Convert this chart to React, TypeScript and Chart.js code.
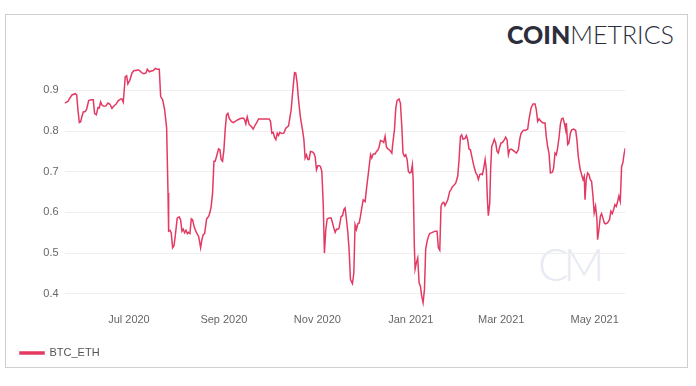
import React, { useEffect, useRef } from "react";
import { Chart, registerables } from "chart.js";

Chart.register(...registerables);

// [days since 2020-05-20, BTC/ETH correlation]
const btcEthPoints: [number, number][] = [
  [0, 0.869], [2.2, 0.873], [3.1, 0.879], [4.8, 0.889], [7.0, 0.892], [7.9, 0.889], [8.7, 0.853], [9.6, 0.821],
  [10.5, 0.823], [11.3, 0.836], [12.2, 0.847], [13.5, 0.848], [14.4, 0.854], [15.7, 0.875], [17.4, 0.877], [18.7, 0.877],
  [19.6, 0.843], [20.7, 0.84], [21.8, 0.858], [22.6, 0.857], [23.5, 0.872], [24.4, 0.864], [25.7, 0.861], [27.0, 0.862],
  [28.3, 0.869], [29.6, 0.866], [30.9, 0.856], [32.2, 0.862], [33.5, 0.866], [34.8, 0.874], [36.6, 0.879], [37.4, 0.879],
  [38.3, 0.871], [39.6, 0.934], [40.5, 0.936], [41.3, 0.916], [42.6, 0.925], [44.0, 0.943], [45.3, 0.949], [46.6, 0.949],
  [47.9, 0.951], [49.2, 0.948], [50.5, 0.943], [51.8, 0.941], [53.1, 0.943], [54.0, 0.952], [55.3, 0.946], [56.6, 0.948],
  [57.9, 0.949], [59.2, 0.954], [60.5, 0.952],
  [61.8, 0.952], [62.7, 0.885], [64.0, 0.877], [65.3, 0.853], [66.6, 0.808], [67.5, 0.648], [67.9, 0.554], [68.8, 0.556],
  [69.6, 0.55], [70.5, 0.513], [71.4, 0.518], [72.2, 0.541], [73.5, 0.586], [74.8, 0.589], [75.7, 0.582], [76.6, 0.554],
  [77.4, 0.559], [78.3, 0.55], [79.2, 0.556], [80.1, 0.548], [80.9, 0.551], [81.8, 0.548], [82.7, 0.584], [83.5, 0.582],
  [84.8, 0.562], [86.1, 0.55], [87.5, 0.541], [88.8, 0.513], [89.6, 0.533], [90.5, 0.545], [91.4, 0.548], [92.7, 0.584],
  [94.0, 0.59], [94.8, 0.599], [95.7, 0.615], [96.6, 0.648], [97.5, 0.726], [98.3, 0.726], [99.2, 0.738], [100.5, 0.756],
  [101.4, 0.754], [102.2, 0.73], [103.1, 0.726], [104.0, 0.754], [104.8, 0.803], [105.7, 0.84], [106.6, 0.844], [107.4, 0.832],
  [108.8, 0.824], [110.1, 0.821], [111.4, 0.824], [113.1, 0.828], [114.8, 0.831], [116.6, 0.832], [117.5, 0.828], [118.3, 0.818],
  [119.2, 0.835], [120.5, 0.816], [121.8, 0.812], [123.1, 0.805], [124.4, 0.815],
  [125.3, 0.82], [126.6, 0.83], [127.9, 0.83], [130.1, 0.83], [132.2, 0.83], [133.5, 0.83], [134.4, 0.824], [135.3, 0.795],
  [136.2, 0.797], [137.0, 0.785], [137.9, 0.779], [138.8, 0.795], [139.6, 0.789], [140.5, 0.797], [141.8, 0.794], [143.1, 0.795],
  [144.4, 0.807], [146.2, 0.813], [147.0, 0.832], [147.9, 0.853], [149.2, 0.91], [150.1, 0.944], [150.9, 0.943], [151.8, 0.918],
  [152.7, 0.877], [154.0, 0.832], [155.3, 0.803], [156.2, 0.779], [157.0, 0.734], [157.9, 0.742], [158.8, 0.73], [159.6, 0.73],
  [160.5, 0.75], [161.8, 0.749], [162.7, 0.746], [163.6, 0.736], [164.4, 0.705], [165.3, 0.715], [166.2, 0.715], [167.0, 0.713],
  [167.9, 0.701], [168.8, 0.623], [169.6, 0.5], [170.5, 0.558], [171.4, 0.584], [172.7, 0.586], [174.0, 0.586], [174.9, 0.574],
  [175.7, 0.562], [176.6, 0.551], [177.5, 0.559], [178.3, 0.558], [179.2, 0.562], [180.5, 0.59], [181.4, 0.592], [182.3, 0.607],
  [183.1, 0.611], [184.0, 0.582], [184.9, 0.55], [185.7, 0.509], [186.6, 0.435],
  [187.9, 0.425], [188.8, 0.451], [189.6, 0.57], [190.5, 0.558], [191.4, 0.572], [192.3, 0.574], [193.1, 0.59], [194.0, 0.611],
  [194.9, 0.631], [196.2, 0.627], [197.0, 0.656], [198.3, 0.697], [199.7, 0.742], [200.5, 0.734], [201.4, 0.744], [202.7, 0.744],
  [203.6, 0.75], [204.4, 0.753], [205.3, 0.761], [206.2, 0.777], [207.5, 0.775], [208.3, 0.772], [209.2, 0.787], [210.1, 0.761],
  [211.0, 0.756], [212.3, 0.753], [213.6, 0.746], [214.4, 0.775], [215.3, 0.803], [216.2, 0.857], [217.0, 0.875], [218.3, 0.879],
  [219.2, 0.869], [220.1, 0.812], [220.9, 0.746], [221.8, 0.738], [222.7, 0.742], [223.6, 0.73], [224.4, 0.701], [225.3, 0.697],
  [226.2, 0.699], [227.0, 0.717], [227.5, 0.681], [228.3, 0.517], [228.8, 0.461], [229.6, 0.476], [230.5, 0.488], [231.4, 0.427],
  [232.3, 0.418], [233.1, 0.394], [234.0, 0.378], [234.9, 0.41], [235.7, 0.509], [236.6, 0.529], [237.5, 0.541], [238.3, 0.548],
  [240.1, 0.551], [241.8, 0.554], [243.1, 0.554], [244.0, 0.513], [244.9, 0.507], [245.7, 0.615], [246.6, 0.623], [247.5, 0.625],
  [248.3, 0.617],
  [250.1, 0.631], [251.4, 0.652], [252.3, 0.656], [253.1, 0.663], [254.0, 0.666], [255.3, 0.672], [256.6, 0.689], [257.5, 0.73],
  [258.4, 0.787], [259.2, 0.791], [260.1, 0.78], [261.4, 0.782], [262.3, 0.789], [263.1, 0.779], [264.0, 0.756], [264.9, 0.754],
  [265.8, 0.738], [267.1, 0.715], [268.4, 0.697], [269.2, 0.693], [270.1, 0.681], [271.0, 0.693], [271.8, 0.695], [272.7, 0.693],
  [273.6, 0.709], [274.5, 0.73], [275.3, 0.705], [276.0, 0.631], [276.6, 0.592], [277.5, 0.623], [278.1, 0.705], [278.8, 0.762],
  [279.7, 0.771], [280.5, 0.78], [281.4, 0.771], [282.3, 0.75], [283.1, 0.746], [284.0, 0.761], [284.9, 0.771], [285.8, 0.772],
  [287.1, 0.779], [287.9, 0.785], [288.8, 0.779], [289.7, 0.742], [290.5, 0.754], [291.4, 0.756], [292.3, 0.754], [293.6, 0.75],
  [294.9, 0.746], [296.2, 0.754], [297.1, 0.78], [297.9, 0.794], [298.8, 0.799], [299.7, 0.802], [301.0, 0.802], [302.3, 0.805],
  [303.1, 0.828], [304.5, 0.857], [305.8, 0.867], [307.1, 0.867], [307.9, 0.853], [308.8, 0.824], [309.7, 0.83], [311.0, 0.824],
  [312.3, 0.82],
  [313.6, 0.82], [314.4, 0.787], [315.3, 0.762], [316.2, 0.746], [317.1, 0.697], [318.4, 0.699], [319.2, 0.709], [320.1, 0.746],
  [321.0, 0.742], [321.8, 0.758], [322.7, 0.783], [323.6, 0.816], [324.4, 0.83], [325.3, 0.832], [326.2, 0.82], [327.1, 0.803],
  [327.5, 0.82], [328.4, 0.767], [329.2, 0.771], [330.1, 0.794], [331.0, 0.803], [332.3, 0.805], [333.6, 0.802], [334.4, 0.779],
  [335.3, 0.738], [336.6, 0.705], [337.5, 0.693], [338.4, 0.681], [339.2, 0.689], [339.7, 0.631], [340.5, 0.681], [341.4, 0.697],
  [342.3, 0.693], [343.1, 0.681], [344.0, 0.676], [344.9, 0.64], [345.7, 0.599], [346.6, 0.615], [347.5, 0.582], [347.9, 0.533],
  [348.8, 0.558], [349.7, 0.59], [350.5, 0.597], [351.4, 0.586], [352.3, 0.574], [353.1, 0.572], [354.4, 0.574], [355.7, 0.582],
  [356.6, 0.603], [357.5, 0.597], [358.4, 0.607], [359.2, 0.619], [360.1, 0.615], [361.0, 0.627], [361.8, 0.64], [362.7, 0.627],
  [363.6, 0.713], [364.4, 0.722], [365.3, 0.746], [366, 0.758],
];

const seriesName = "BTC_ETH";
const xTickDays = [42, 104, 165, 226, 285, 346];
const xTickLabels = ["Jul 2020", "Sep 2020", "Nov 2020", "Jan 2021", "Mar 2021", "May 2021"];
const yTickValues = [0.4, 0.5, 0.6, 0.7, 0.8, 0.9];

const LINE_COLOR = "#e33a63";
const TICK_FONT = { family: "'Liberation Sans', Arial, sans-serif", size: 11 };

export default function App() {
  const canvasRef = useRef<HTMLCanvasElement | null>(null);

  useEffect(() => {
    if (!canvasRef.current) return;
    const chart = new Chart(canvasRef.current, {
      type: "line",
      data: {
        datasets: [
          {
            label: seriesName,
            data: btcEthPoints.map(([d, v]) => ({ x: d, y: v })),
            borderColor: LINE_COLOR,
            backgroundColor: LINE_COLOR,
            borderWidth: 1.5,
            pointRadius: 0,
            tension: 0,
          },
        ],
      },
      options: {
        animation: false,
        responsive: false,
        maintainAspectRatio: false,
        layout: { padding: { left: 0, right: 70.7, top: 62, bottom: 17.5 } },
        scales: {
          x: {
            type: "linear",
            min: 0,
            max: 366,
            grid: { display: false, drawTicks: false },
            border: { display: false },
            afterBuildTicks: (s: any) => {
              s.ticks = xTickDays.map((v) => ({ value: v }));
            },
            afterFit: (s: any) => {
              s.height = 17.5;
            },
            ticks: {
              autoSkip: false,
              maxRotation: 0,
              padding: 3,
              color: "#666",
              font: TICK_FONT,
              callback: (_v: any, i: number) => xTickLabels[i],
            },
          },
          y: {
            type: "linear",
            min: 0.36,
            max: 0.97,
            grid: { color: "#efefef", drawTicks: false },
            border: { display: false },
            afterBuildTicks: (s: any) => {
              s.ticks = yTickValues.map((v) => ({ value: v }));
            },
            afterFit: (s: any) => {
              s.width = 64.6;
            },
            ticks: {
              padding: 6,
              color: "#666",
              font: TICK_FONT,
              callback: (v: any) => Number(v).toFixed(1),
            },
          },
        },
        plugins: {
          legend: {
            position: "bottom",
            align: "start",
            labels: {
              boxWidth: 24,
              boxHeight: 2,
              padding: 20,
              color: "#555",
              font: TICK_FONT,
            },
          },
          tooltip: { enabled: false },
        },
      },
    });
    return () => chart.destroy();
  }, []);

  return (
    <div style={{ position: "absolute", left: 0, top: 0, width: 696, height: 386, background: "#fff", overflow: "hidden" }}>
      <div
        style={{
          position: "absolute",
          left: 5,
          top: 14,
          width: 683,
          height: 354,
          border: "1px solid #cfcfcf",
          boxSizing: "border-box",
        }}
      />
      <div
        style={{
          position: "absolute",
          left: 538,
          top: 238,
          fontFamily: "Lato, sans-serif",
          fontWeight: 300,
          fontSize: 45,
          lineHeight: "52px",
          color: "#e7eaf2",
          letterSpacing: -5,
        }}
      >
        CM
      </div>
      <div
        style={{
          position: "absolute",
          left: 507,
          top: 17,
          fontFamily: "Lato, sans-serif",
          fontSize: 25,
          lineHeight: "34px",
          color: "#2c2e3b",
          whiteSpace: "nowrap",
        }}
      >
        <span style={{ fontWeight: 900 }}>COIN</span>
        <span style={{ fontWeight: 300 }}>METRICS</span>
      </div>
      <canvas
        ref={canvasRef}
        width={696}
        height={386}
        style={{ position: "absolute", left: 0, top: 0, width: 696, height: 386 }}
      />
    </div>
  );
}
